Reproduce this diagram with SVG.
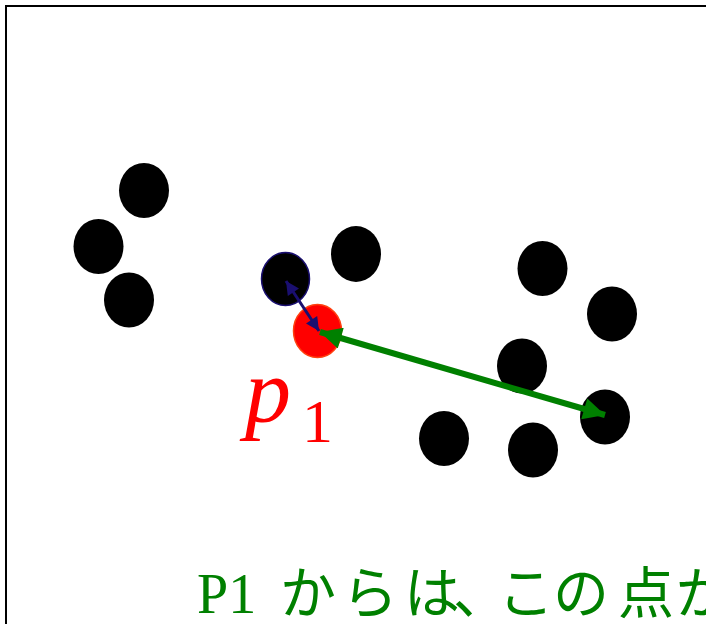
<svg xmlns="http://www.w3.org/2000/svg" width="706" height="624" viewBox="0 0 706 624">
<style>
.dot{fill:#000}
</style>
<defs>
<marker id="ab" viewBox="0 0 10 10" refX="10" refY="5" markerWidth="5" markerHeight="4.5" orient="auto-start-reverse" markerUnits="strokeWidth"><path d="M0,0 L10,5 L0,10 Z" fill="#1a0f70"/></marker>
<marker id="ag" viewBox="0 0 10 10" refX="10" refY="5" markerWidth="4.5" markerHeight="3.6" orient="auto-start-reverse" markerUnits="strokeWidth"><path d="M0,0 L10,5 L0,10 Z" fill="#008000"/></marker>
</defs>
<rect x="0" y="0" width="706" height="624" fill="#fff"/>
<path d="M6,624 V6 H706" fill="none" stroke="#000" stroke-width="2"/>
<g id="n1"><ellipse class="dot" cx="144" cy="190.5" rx="25" ry="27.5"/></g>
<g id="n2"><ellipse class="dot" cx="98.5" cy="246.5" rx="25" ry="27.5"/></g>
<g id="n3"><ellipse class="dot" cx="129" cy="300" rx="25" ry="27.5"/></g>
<g id="n4"><ellipse class="dot" cx="356" cy="254" rx="25" ry="28"/></g>
<g id="n5"><ellipse class="dot" cx="285.5" cy="279" rx="24" ry="26.5" stroke="#1a0f70" stroke-width="1.5"/></g>
<g id="n7"><ellipse class="dot" cx="542.5" cy="268.5" rx="25" ry="27.5"/></g>
<g id="n8"><ellipse class="dot" cx="612" cy="314" rx="25" ry="27.5"/></g>
<g id="n9"><ellipse class="dot" cx="522" cy="366" rx="25" ry="27.5"/></g>
<g id="n10"><ellipse class="dot" cx="605" cy="417" rx="25" ry="27.5"/></g>
<g id="n11"><ellipse class="dot" cx="444" cy="438.5" rx="25" ry="27.5"/></g>
<g id="n12"><ellipse class="dot" cx="533" cy="450" rx="25" ry="27.5"/></g>
<g id="p1"><ellipse cx="317.5" cy="331" rx="24" ry="26.5" fill="#ff0000" stroke="#ff4010" stroke-width="1.5"/>
<text font-family="Liberation Serif, serif" x="245" y="422" font-size="92" font-style="italic" fill="#ff0000">p</text>
<text font-family="Liberation Serif, serif" x="302" y="442" font-size="62" fill="#ff0000">1</text></g>
<g id="connectors">
<line x1="286" y1="281" x2="319" y2="331" stroke="#1a0f70" stroke-width="3" marker-start="url(#ab)" marker-end="url(#ab)"/>
<line x1="320" y1="332" x2="605" y2="415" stroke="#008000" stroke-width="6" marker-start="url(#ag)" marker-end="url(#ag)"/>
</g>
<text y="613" font-size="56" fill="#008000" font-family="Liberation Serif, Noto Sans CJK JP, serif"><tspan x="197">P1</tspan><tspan x="280">か</tspan><tspan x="342">ら</tspan><tspan x="404">は</tspan><tspan x="453">、</tspan><tspan x="498">こ</tspan><tspan x="553">の</tspan><tspan x="618">点</tspan><tspan x="676">が</tspan></text>
</svg>
